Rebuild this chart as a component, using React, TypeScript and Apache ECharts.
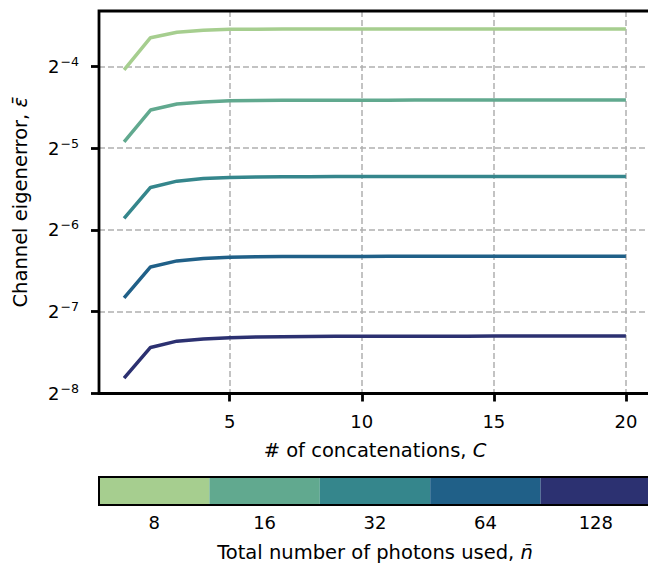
import React, { useEffect, useRef } from "react";
import * as echarts from "echarts";

// # of concatenations, C
const concatenations = [1, 2, 3, 4, 5, 6, 7, 8, 9, 10, 11, 12, 13, 14, 15, 16, 17, 18, 19, 20];

// log2 of channel eigenerror, one list per total photon number
const log2Eps8 = [-4.045, -3.65, -3.584, -3.56, -3.548, -3.546, -3.545, -3.545, -3.545, -3.544, -3.544, -3.544, -3.544, -3.544, -3.544, -3.544, -3.544, -3.544, -3.544, -3.544];
const log2Eps16 = [-4.923, -4.535, -4.461, -4.437, -4.422, -4.418, -4.416, -4.415, -4.414, -4.414, -4.414, -4.413, -4.413, -4.413, -4.413, -4.413, -4.413, -4.413, -4.413, -4.413];
const log2Eps32 = [-5.86, -5.481, -5.404, -5.373, -5.359, -5.353, -5.35, -5.349, -5.348, -5.347, -5.347, -5.347, -5.346, -5.346, -5.346, -5.346, -5.346, -5.346, -5.346, -5.346];
const log2Eps64 = [-6.832, -6.453, -6.379, -6.351, -6.335, -6.329, -6.326, -6.325, -6.324, -6.324, -6.323, -6.323, -6.323, -6.323, -6.323, -6.323, -6.323, -6.323, -6.323, -6.323];
const log2Eps128 = [-7.812, -7.437, -7.36, -7.333, -7.318, -7.309, -7.305, -7.303, -7.301, -7.3, -7.3, -7.299, -7.299, -7.299, -7.298, -7.298, -7.298, -7.298, -7.298, -7.298];

const photonLabels = ["8", "16", "32", "64", "128"];
const photonColors = ["#a6ce8f", "#61a98f", "#35868c", "#206088", "#2c3171"];
const seriesValues = [log2Eps8, log2Eps16, log2Eps32, log2Eps64, log2Eps128];

const xTicks = [5, 10, 15, 20];
const yTicks = [-8, -7, -6, -5, -4];

const FONT = "DejaVu Sans";
const NAME_SIZE = 19.5;
const TICK_SIZE = 18;

const nameStyle = {
  fontSize: NAME_SIZE,
  color: "#000",
  fontFamily: FONT,
  rich: {
    t: { fontSize: NAME_SIZE, fontFamily: FONT, color: "#000" },
    i: { fontStyle: "italic", fontSize: NAME_SIZE, fontFamily: FONT, color: "#000" },
  },
};

export default function App() {
  const ref = useRef<HTMLDivElement>(null);
  useEffect(() => {
    if (!ref.current) return;
    const chart = echarts.init(ref.current, null, { renderer: "svg" });
    const option: any = {
      animation: false,
      backgroundColor: "#ffffff",
      textStyle: { fontFamily: FONT },
      grid: [
        {
          left: 99,
          top: 11,
          width: 552,
          height: 382.5,
          containLabel: false,
          outerBoundsMode: "none",
          show: true,
          borderColor: "#000",
          borderWidth: 2.8,
          backgroundColor: "transparent",
          z: 5,
        },
        {
          left: 99,
          top: 477,
          width: 552,
          height: 28,
          containLabel: false,
          outerBoundsMode: "none",
          show: true,
          borderColor: "#000",
          borderWidth: 2,
          backgroundColor: "transparent",
          z: 5,
        },
      ],
      xAxis: [
        {
          type: "value",
          gridIndex: 0,
          min: 0.05,
          max: 20.95,
          axisLine: { show: false },
          axisTick: {
            show: true,
            inside: false,
            length: 8,
            customValues: xTicks,
            lineStyle: { color: "#000", width: 2.8 },
          },
          axisLabel: {
            customValues: xTicks,
            margin: 19,
            fontSize: TICK_SIZE,
            color: "#000",
            fontFamily: FONT,
          },
          splitLine: {
            show: true,
            lineStyle: { color: "#b0b0b0", width: 1.5, type: [6, 3] },
          },
          name: "{t|# of concatenations, }{i|C}",
          nameLocation: "middle",
          nameGap: 47,
          nameTextStyle: nameStyle,
        },
        {
          type: "category",
          gridIndex: 1,
          data: photonLabels,
          axisLine: { show: false },
          axisTick: { show: false },
          axisLabel: { margin: 8, fontSize: TICK_SIZE, color: "#000", fontFamily: FONT },
          splitLine: { show: false },
          name: "{t|Total number of photons used, }{i|n\u0304}",
          nameLocation: "middle",
          nameGap: 37,
          nameTextStyle: nameStyle,
        },
      ],
      yAxis: [
        {
          type: "value",
          gridIndex: 0,
          min: -8,
          max: -3.324,
          axisLine: { show: false },
          axisTick: {
            show: true,
            inside: false,
            length: 8,
            customValues: yTicks,
            lineStyle: { color: "#000", width: 2.8 },
          },
          axisLabel: {
            customValues: yTicks,
            margin: 20,
            color: "#000",
            fontFamily: FONT,
            formatter: (v: number) => `{b|2}{s|\u2212${Math.abs(Math.round(v))}}`,
            rich: {
              b: { fontSize: TICK_SIZE, fontFamily: FONT, color: "#000" },
              s: { fontSize: 12.6, fontFamily: FONT, color: "#000", padding: [0, 0, 10, 1] },
            },
          },
          splitLine: {
            show: true,
            lineStyle: { color: "#b0b0b0", width: 1.5, type: [6, 3] },
          },
          name: "{t|Channel eigenerror, }{i|\u03b5\u0304}",
          nameLocation: "middle",
          nameGap: 69,
          nameTextStyle: nameStyle,
        },
        {
          type: "value",
          gridIndex: 1,
          min: 0,
          max: 1,
          show: false,
        },
      ],
      series: [
        ...seriesValues.map((vals, i) => ({
          type: "line",
          name: photonLabels[i],
          xAxisIndex: 0,
          yAxisIndex: 0,
          data: concatenations.map((c, j) => [c, vals[j]]),
          showSymbol: false,
          symbol: "none",
          lineStyle: { color: photonColors[i], width: 3.5 },
          itemStyle: { color: photonColors[i] },
          z: 3,
        })),
        {
          type: "bar",
          xAxisIndex: 1,
          yAxisIndex: 1,
          barWidth: "100%",
          barCategoryGap: "0%",
          data: photonLabels.map((_, i) => ({ value: 1, itemStyle: { color: photonColors[i] } })),
          silent: true,
        },
      ],
    };
    chart.setOption(option);
    return () => chart.dispose();
  }, []);
  return (
    <div
      ref={ref}
      style={{ position: "fixed", left: 0, top: 0, width: 648, height: 563 }}
    />
  );
}
